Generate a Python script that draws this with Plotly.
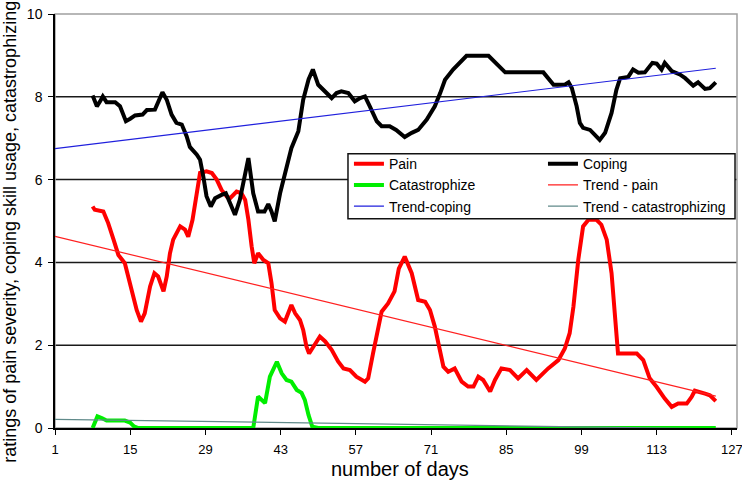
import plotly.graph_objects as go

# ---------------- data ----------------
pain_days = [8, 8.4, 10, 10.9, 11.9, 12.8, 14, 15, 16.2, 17,
             17.7, 18.7, 19.5, 20.2, 21.2, 21.8, 22.4, 23, 24.3, 25.2,
             25.8, 26.6, 27.4, 28, 29.2, 30.2, 31.1, 32, 33, 33.6,
             34.8, 35.7, 36.4, 37, 37.6, 38.1, 38.8, 39.8, 40.7, 41.3,
             41.9, 42.9, 43.8, 44.4, 45, 45.7, 46.6, 47.2, 47.8, 48.3,
             49.1, 50.3, 51.3, 52.5, 53.7, 54.7, 55.9, 57.1, 58.7, 59.3,
             60.2, 61.2, 61.8, 63, 64.2, 65, 66.1, 67.4, 68.6, 69.9,
             70.8, 71.7, 72.7, 73.3, 74.2, 75.4, 76.7, 77.9, 78.9, 79.8,
             80.7, 82, 82.9, 84.1, 85.7, 87.2, 88.8, 90.6, 92.8, 94.7,
             95.9, 96.8, 97.5, 98.4, 99.3, 100.3, 101.8, 102.7, 103.7, 104.6,
             105.2, 105.8, 106.8, 109.3, 110.5, 111.7, 113, 114.5, 115.8, 117,
             118.6, 119.5, 120.1, 121.1, 122, 122.9, 124]
pain_vals = [5.35, 5.27, 5.23, 4.95, 4.55, 4.18, 3.98, 3.42, 2.85, 2.57,
             2.77, 3.42, 3.74, 3.66, 3.30, 3.66, 4.22, 4.55, 4.87, 4.79,
             4.62, 5.03, 5.67, 6.16, 6.20, 6.16, 6.00, 5.75, 5.59, 5.55,
             5.71, 5.67, 5.51, 5.03, 4.39, 3.98, 4.22, 4.06, 3.98, 3.50,
             2.85, 2.65, 2.57, 2.77, 2.97, 2.77, 2.61, 2.37, 1.97, 1.80,
             1.97, 2.21, 2.09, 1.89, 1.61, 1.44, 1.40, 1.24, 1.12, 1.20,
             1.80, 2.37, 2.81, 3.01, 3.30, 3.85, 4.14, 3.74, 3.09, 3.05,
             2.85, 2.45, 1.80, 1.48, 1.36, 1.44, 1.12, 1.00, 1.00, 1.24,
             1.16, 0.88, 1.16, 1.44, 1.40, 1.20, 1.40, 1.16, 1.44, 1.64,
             1.92, 2.29, 2.93, 4.06, 4.87, 5.03, 5.03, 4.91, 4.55, 3.74,
             2.77, 1.80, 1.80, 1.80, 1.64, 1.20, 0.99, 0.71, 0.51, 0.59,
             0.59, 0.75, 0.90, 0.87, 0.83, 0.79, 0.65]

coping_days = [8, 8.8, 9.4, 9.9, 10.6, 12.2, 13.1, 14.2, 15, 15.9,
               17.3, 18.1, 19.6, 20.2, 21, 21.8, 22.7, 23.6, 24.6, 25.5,
               26.1, 27.4, 28, 28.6, 29.2, 30, 30.8, 32, 32.8, 33.6,
               34.5, 35.4, 37, 37.9, 38.8, 40, 40.7, 41.3, 41.9, 42.9,
               43.8, 45, 46.3, 47.2, 48.2, 49, 50, 51.3, 52.5, 53.4,
               54.3, 55.6, 56.8, 57.8, 58.7, 59.6, 60.9, 61.8, 63.3, 64.5,
               66.1, 67.4, 68.6, 70.2, 71.7, 72.7, 73.6, 75.1, 77.6, 81.7,
               84.8, 91.9, 93.8, 95.9, 96.6, 97.2, 98.1, 98.7, 99.3, 100.6,
               101.5, 102.4, 103.4, 104.6, 105.5, 106.2, 107.7, 108.6, 109.6, 110.8,
               112.2, 113, 113.9, 114.5, 115.8, 117.3, 118.3, 119.8, 120.7, 122,
               122.9, 124]
coping_vals = [8.03, 7.77, 7.89, 8.01, 7.87, 7.87, 7.77, 7.41, 7.47, 7.55,
               7.57, 7.68, 7.69, 7.85, 8.11, 7.93, 7.57, 7.37, 7.33, 7.05,
               6.79, 6.60, 6.48, 6.08, 5.60, 5.35, 5.55, 5.63, 5.67, 5.43,
               5.15, 5.51, 6.52, 5.67, 5.23, 5.23, 5.41, 5.23, 4.99, 5.67,
               6.16, 6.76, 7.17, 7.93, 8.42, 8.66, 8.29, 8.13, 7.97, 8.09,
               8.13, 8.09, 7.89, 7.97, 8.01, 7.77, 7.41, 7.29, 7.29, 7.20,
               7.03, 7.13, 7.20, 7.45, 7.77, 8.09, 8.41, 8.66, 8.99, 8.99,
               8.59, 8.59, 8.29, 8.29, 8.35, 8.21, 7.77, 7.37, 7.25, 7.20,
               7.08, 6.96, 7.13, 7.61, 8.17, 8.45, 8.48, 8.66, 8.58, 8.59,
               8.82, 8.80, 8.66, 8.82, 8.62, 8.54, 8.45, 8.27, 8.35, 8.19,
               8.21, 8.35]

cat_days = [8, 8.9, 9.7, 10.6, 12.5, 14, 15, 15.7, 16.5, 37.9,
            38.8, 39.5, 40.1, 41, 42.3, 43.2, 44.1, 45, 46, 46.9,
            47.5, 48.2, 48.9, 50, 124]
cat_vals = [0, 0.28, 0.24, 0.18, 0.18, 0.18, 0.13, 0.04, 0, 0,
            0.76, 0.68, 0.60, 1.24, 1.60, 1.32, 1.16, 1.12, 0.92, 0.85,
            0.68, 0.31, 0.03, 0, 0]

trend_days = [1, 124]
trend_pain = [4.63, 0.77]
trend_coping = [6.75, 8.69]
trend_cat = [0.21, -0.02]

x_ticks = [1, 15, 29, 43, 57, 71, 85, 99, 113, 127]
y_ticks = [0, 2, 4, 6, 8, 10]
grid_vals = [2, 4, 6, 8]

FONT = "Arial, Liberation Sans, sans-serif"

fig = go.Figure()
fig.add_trace(go.Scatter(x=pain_days, y=pain_vals, mode="lines", name="Pain",
                         line=dict(color="#ff0000", width=4), legend="legend"))
fig.add_trace(go.Scatter(x=coping_days, y=coping_vals, mode="lines", name="Coping",
                         line=dict(color="#000000", width=4), legend="legend2"))
fig.add_trace(go.Scatter(x=cat_days, y=cat_vals, mode="lines", name="Catastrophize",
                         line=dict(color="#00ee00", width=4), legend="legend"))
fig.add_trace(go.Scatter(x=trend_days, y=trend_pain, mode="lines", name="Trend - pain",
                         line=dict(color="#ff2020", width=1.2), legend="legend2"))
fig.add_trace(go.Scatter(x=trend_days, y=trend_coping, mode="lines", name="Trend-coping",
                         line=dict(color="#2020dd", width=1.2), legend="legend"))
fig.add_trace(go.Scatter(x=trend_days, y=trend_cat, mode="lines", name="Trend - catastrophizing",
                         line=dict(color="#608a8a", width=1.2), legend="legend2"))

shapes = []
for g in grid_vals:
    shapes.append(dict(type="line", xref="paper", yref="y", x0=0, x1=1, y0=g, y1=g,
                       line=dict(color="#1a1a1a", width=1.5), layer="below"))
# plot frame (top/right grey)
shapes.append(dict(type="rect", xref="paper", yref="paper", x0=0, x1=1, y0=0, y1=1,
                   line=dict(color="#a0a0a0", width=1.5), layer="below"))
# legend box
shapes.append(dict(type="rect", xref="paper", yref="paper", x0=0.4296, x1=0.9971,
                   y0=0.5054, y1=0.6626, fillcolor="white",
                   line=dict(color="#111111", width=1.5), layer="above"))

leg_common = dict(orientation="v", bgcolor="rgba(0,0,0,0)", borderwidth=0,
                  font=dict(family=FONT, size=14, color="black"),
                  xanchor="left", yanchor="top", y=0.676, traceorder="normal")

fig.update_layout(
    width=742, height=482,
    margin=dict(l=55, r=5, t=14, b=54, autoexpand=False),
    paper_bgcolor="white", plot_bgcolor="white",
    font=dict(family=FONT, size=14, color="black"),
    showlegend=True,
    legend=dict(x=0.431, **leg_common),
    legend2=dict(x=0.7155, **leg_common),
    shapes=shapes,
    xaxis=dict(range=[1, 127.95], tickvals=x_ticks, ticktext=[str(t) for t in x_ticks],
               showgrid=False, zeroline=False, showline=True, linecolor="black", linewidth=1.5,
               ticks="outside", ticklen=5, tickcolor="black", tickwidth=1,
               tickfont=dict(family=FONT, size=13, color="black"), ticklabelstandoff=4,
               ticklabeloverflow="allow", automargin=False, layer="below traces"),
    yaxis=dict(range=[0, 10], tickvals=y_ticks, ticktext=[str(t) for t in y_ticks],
               showgrid=False, zeroline=False, showline=True, linecolor="black", linewidth=1.5,
               ticks="outside", ticklen=5, tickcolor="black", tickwidth=1,
               tickfont=dict(family=FONT, size=14, color="black"), ticklabelstandoff=3,
               automargin=False),
    annotations=[
        dict(text="number of days", xref="paper", yref="paper", x=0.506, y=-0.099,
             xanchor="center", yanchor="middle", showarrow=False,
             font=dict(family=FONT, size=20, color="black")),
        dict(text="ratings of pain severity, coping skill usage, catastrophizing",
             xref="paper", yref="paper", x=-0.066, y=0.474, textangle=-90,
             xanchor="center", yanchor="middle", showarrow=False,
             font=dict(family=FONT, size=18, color="black")),
    ],
)

fig.write_html("out.html", config={"displayModeBar": False},
               post_script="document.body.style.margin='0px';document.body.style.padding='0px';")
